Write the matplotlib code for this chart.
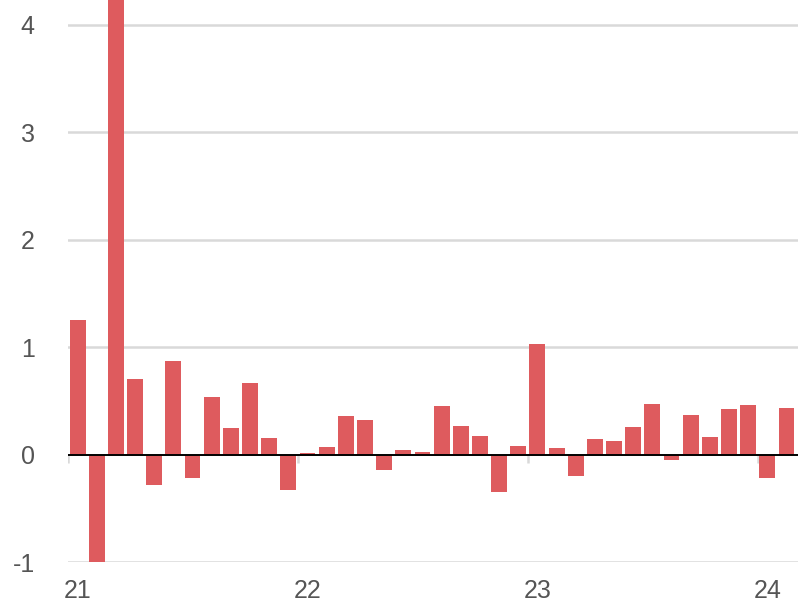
import numpy as np
import matplotlib
matplotlib.use("Agg")
import matplotlib.pyplot as plt

# monthly values, Jan 2021 .. Feb 2024
months = ["2021-01", "2021-02", "2021-03", "2021-04", "2021-05", "2021-06",
          "2021-07", "2021-08", "2021-09", "2021-10", "2021-11", "2021-12",
          "2022-01", "2022-02", "2022-03", "2022-04", "2022-05", "2022-06",
          "2022-07", "2022-08", "2022-09", "2022-10", "2022-11", "2022-12",
          "2023-01", "2023-02", "2023-03", "2023-04", "2023-05", "2023-06",
          "2023-07", "2023-08", "2023-09", "2023-10", "2023-11", "2023-12",
          "2024-01", "2024-02"]
values = [1.25, -1.00, 4.40, 0.70, -0.28, 0.87, -0.22, 0.54, 0.25, 0.67, 0.15, -0.33,
          0.01, 0.07, 0.36, 0.32, -0.14, 0.04, 0.02, 0.45, 0.27, 0.17, -0.35, 0.08,
          1.03, 0.06, -0.20, 0.14, 0.13, 0.26, 0.47, -0.05, 0.37, 0.16, 0.42, 0.46,
          -0.22, 0.43]
year_labels = ["21", "22", "23", "24"]
y_ticks = [-1, 0, 1, 2, 3, 4]

plt.rcParams["font.family"] = ["Liberation Sans", "DejaVu Sans"]
GREY = "#555555"
GRID = "#d9d9d9"
BAR = "#de5b5e"

fig = plt.figure(figsize=(8.08, 6.02), dpi=100)
ax = fig.add_axes([68/808, 40/602, 730/808, 562/602])

x = np.arange(len(values)) + 0.5
ax.bar(x, values, width=0.83, color=BAR, zorder=2)

for yv in y_ticks:
    if yv != 0:
        ax.axhline(yv, color=GRID, lw=1.8, zorder=1)
ax.axhline(0, color="black", lw=1.4, zorder=3)

year_pos = [12 * i for i in range(len(year_labels))]
ax.vlines(year_pos, -0.075, 0, color=GRID, lw=1.8, zorder=1)

ax.set_xlim(0, 38.1)
ax.set_ylim(-1, 4.23)
ax.set_xticks([p + 0.5 for p in year_pos])
ax.set_xticklabels(year_labels)
ax.set_yticks(y_ticks)
ax.set_yticklabels([str(v) for v in y_ticks])
ax.tick_params(axis="both", length=0, labelsize=18, colors=GREY)
ax.tick_params(axis="y", pad=24)
ax.tick_params(axis="x", pad=12)
for s in ax.spines.values():
    s.set_visible(False)

fig.savefig("out.png", dpi=100)
